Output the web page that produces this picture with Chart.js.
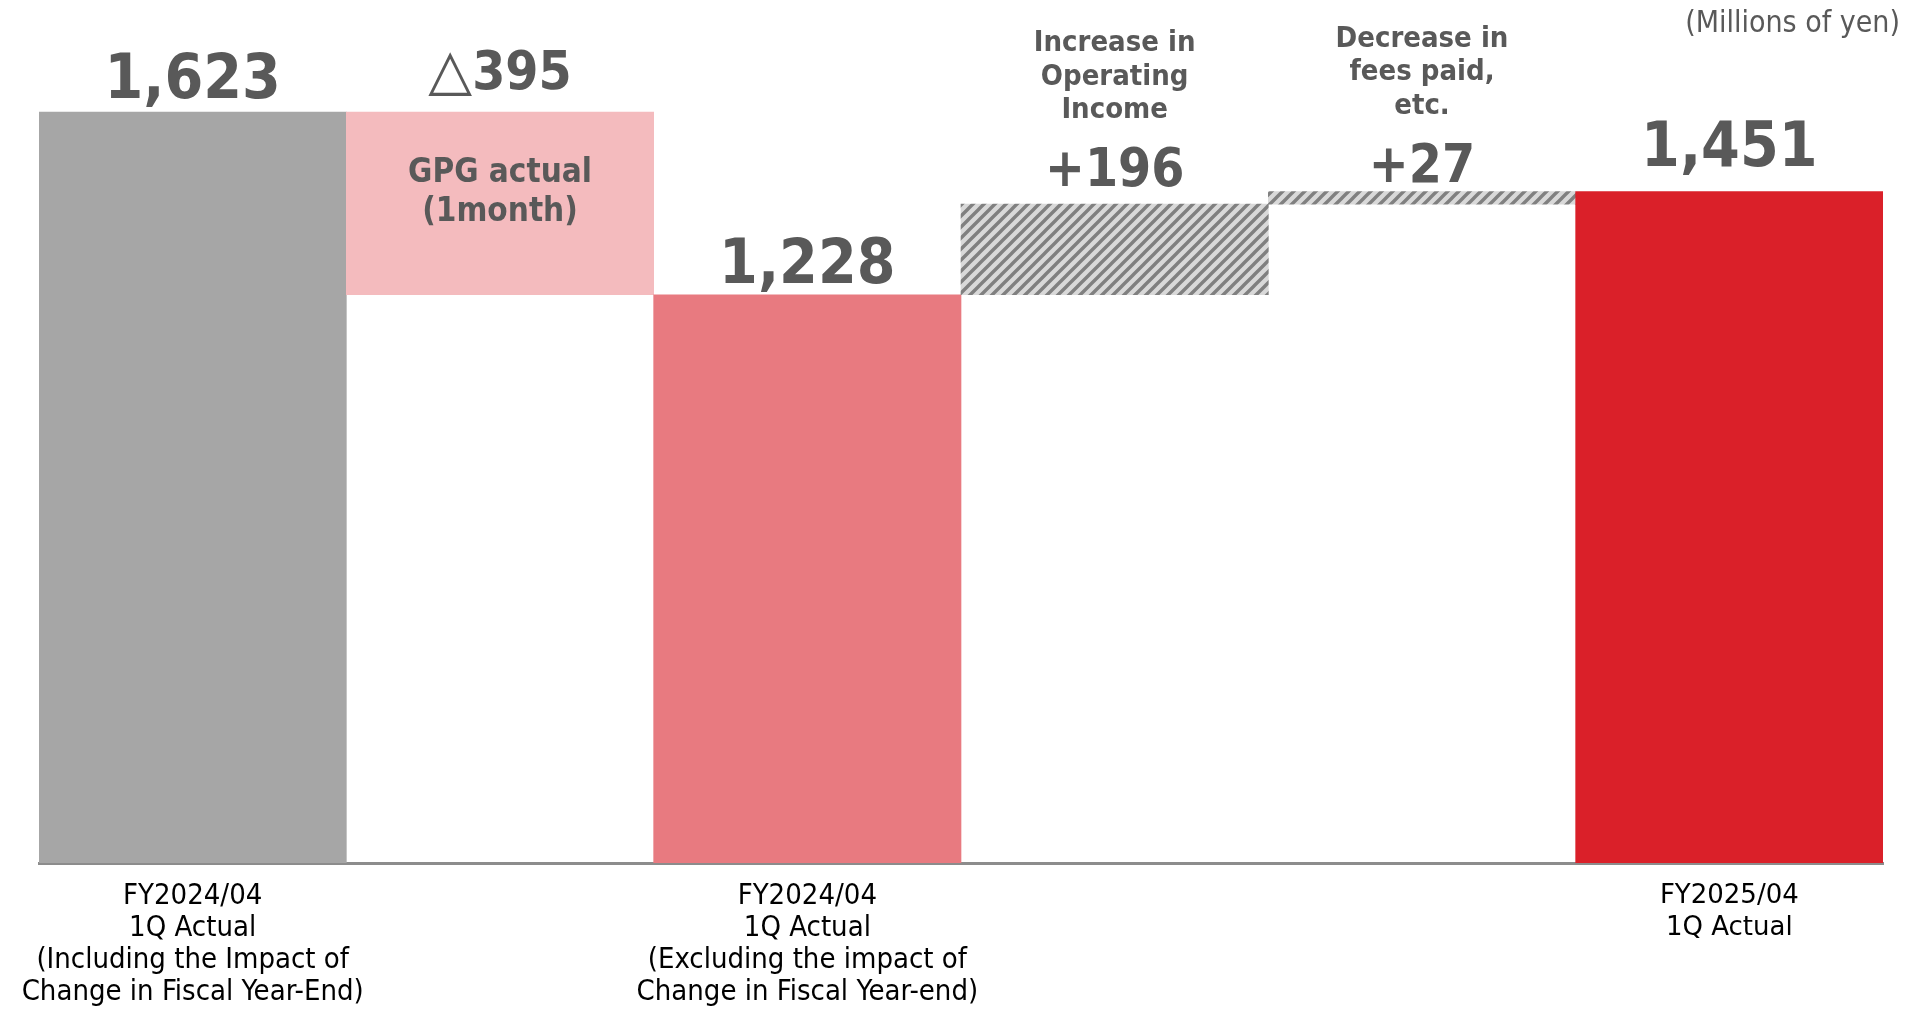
<!DOCTYPE html>
<html lang="en">
<head>
    <meta charset="UTF-8">
    <title>Operating income bridge</title>
    <script src="https://cdn.jsdelivr.net/npm/chart.js"></script>
    <style>
        html, body { margin: 0; padding: 0; background: #fff; }
        #wrap { position: relative; width: 1916px; height: 1009px; }
    </style>
</head>
<body>
<div id="wrap"><canvas id="bridge"></canvas></div>
<script>
    // Werte aus der Vorlage (Millionen Yen)
    const categories = [
        ['FY2024/04', '1Q Actual', '(Including the Impact of', 'Change in Fiscal Year-End)'],
        '',
        ['FY2024/04', '1Q Actual', '(Excluding the impact of', 'Change in Fiscal Year-end)'],
        '',
        '',
        ['FY2025/04', '1Q Actual']
    ];
    const stepKinds = ['total', 'delta', 'total', 'delta', 'delta', 'total'];
    const stepValues = [1623, -395, 1228, 196, 27, 1451];
    const valueLabels = ['1,623', '△395', '1,228', '+196', '+27', '1,451'];
    const stepNotes = [
        null,
        ['GPG actual', '(1month)'],
        null,
        ['Increase in', 'Operating', 'Income'],
        ['Decrease in', 'fees paid,', 'etc.'],
        null
    ];
    const unitLabel = '(Millions of yen)';

    const TEXT = '#595959';
    const COND = "'DejaVu Sans Condensed', 'Liberation Sans Narrow', 'DejaVu Sans', sans-serif";
    // Abstand Wertbeschriftung ueber Balken (px), wie in der Vorlage
    const labelLift = [14, 23, 12, 18, 10, 26];

    function hatch() {
        const s = 11;
        const c = document.createElement('canvas');
        c.width = s; c.height = s;
        const g = c.getContext('2d');
        g.fillStyle = '#D9D9D9';
        g.fillRect(0, 0, s, s);
        g.strokeStyle = '#808080';
        g.lineWidth = 3.4;
        g.beginPath();
        g.moveTo(-2, s + 2); g.lineTo(s + 2, -2);
        g.moveTo(-2, 2); g.lineTo(2, -2);
        g.moveTo(s - 2, s + 2); g.lineTo(s + 2, s - 2);
        g.stroke();
        return g.createPattern(c, 'repeat');
    }
    const stripes = hatch();
    const barColors = ['#A6A6A6', '#F4BBBE', '#E87A80', stripes, stripes, '#DA2029'];

    // schwebende Balken aus laufender Summe
    let running = 0;
    const floating = stepValues.map((v, i) => {
        if (stepKinds[i] === 'total') {
            running = v;
            return [0, v];
        }
        const from = running;
        running += v;
        return [Math.min(from, running), Math.max(from, running)];
    });

    const labelPlugin = {
        id: 'bridgeLabels',
        afterDatasetsDraw(chart) {
            const ctx = chart.ctx;
            const bars = chart.getDatasetMeta(0).data;
            ctx.save();
            ctx.fillStyle = TEXT;
            ctx.textAlign = 'center';
            ctx.textBaseline = 'alphabetic';
            bars.forEach((bar, i) => {
                const top = Math.min(bar.y, bar.base);
                const size = stepKinds[i] === 'total' ? 62 : 53;
                const base = top - labelLift[i];
                const text = valueLabels[i];
                if (text.startsWith('△')) {
                    const tri = '△';
                    const rest = text.slice(1);
                    ctx.font = 'normal ' + (size + 4) + 'px "DejaVu Sans", sans-serif';
                    const wTri = ctx.measureText(tri).width;
                    ctx.font = 'bold ' + size + 'px ' + COND;
                    const wRest = ctx.measureText(rest).width;
                    const x0 = bar.x - (wTri + wRest) / 2;
                    ctx.textAlign = 'left';
                    ctx.font = 'normal ' + (size + 4) + 'px "DejaVu Sans", sans-serif';
                    ctx.fillText(tri, x0, base);
                    ctx.font = 'bold ' + size + 'px ' + COND;
                    ctx.fillText(rest, x0 + wTri, base);
                    ctx.textAlign = 'center';
                } else {
                    ctx.font = 'bold ' + size + 'px ' + COND;
                    ctx.fillText(text, bar.x, base);
                }
                const notes = stepNotes[i];
                if (!notes) return;
                if (stepValues[i] < 0) {
                    ctx.font = 'bold 33px ' + COND;
                    notes.forEach((t, k) => ctx.fillText(t, bar.x, top + 70 + k * 39));
                } else {
                    ctx.font = 'bold 29px ' + COND;
                    const last = base - 68;
                    notes.forEach((t, k) => ctx.fillText(t, bar.x, last - (notes.length - 1 - k) * 33.5));
                }
            });
            ctx.font = 'normal 30px ' + COND;
            ctx.textAlign = 'right';
            ctx.fillText(unitLabel, chart.width - 16, 32);
            ctx.restore();
        }
    };

    new Chart(document.getElementById('bridge'), {
        type: 'bar',
        data: {
            labels: categories,
            datasets: [{
                data: floating,
                backgroundColor: barColors,
                borderWidth: 0,
                barPercentage: 1,
                categoryPercentage: 1
            }]
        },
        options: {
            responsive: true,
            maintainAspectRatio: false,
            animation: false,
            layout: { padding: { left: 39, right: 33, top: 0, bottom: 0 } },
            plugins: { legend: { display: false }, tooltip: { enabled: false } },
            scales: {
                x: {
                    grid: { display: false, drawTicks: false },
                    border: { display: true, color: '#8C8C8C', width: 3 },
                    ticks: {
                        color: '#000',
                        padding: 17,
                        autoSkip: false,
                        maxRotation: 0,
                        minRotation: 0,
                        font: (c) => c.index === 5
                            ? { family: "'DejaVu Sans', sans-serif", size: 26, lineHeight: 32 / 26 }
                            : { family: COND, size: 29, lineHeight: 32 / 29 }
                    },
                    afterFit(scale) { scale.height = 146; }
                },
                y: { display: false, min: 0, max: 1865 }
            }
        },
        plugins: [labelPlugin]
    });
</script>
</body>
</html>
